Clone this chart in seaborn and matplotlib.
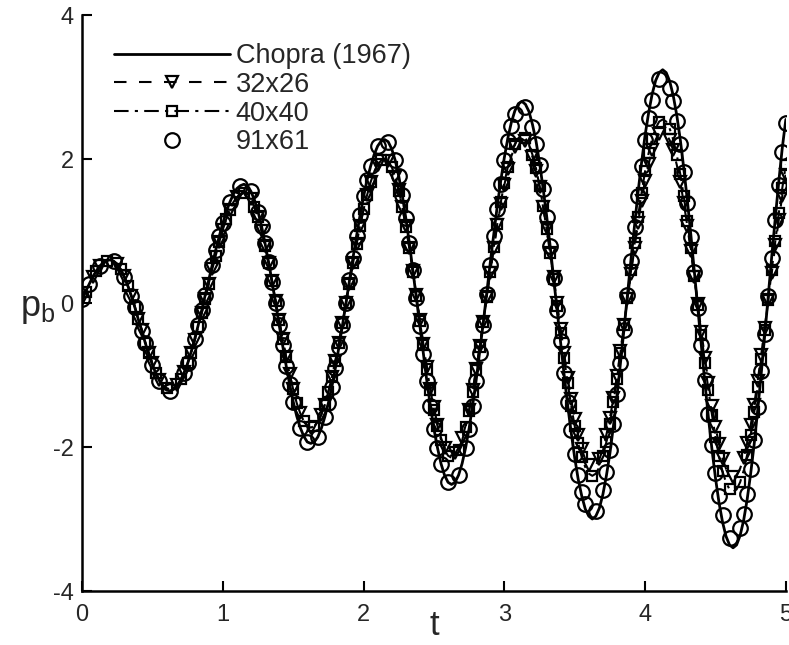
import matplotlib
matplotlib.use("Agg")
import matplotlib.pyplot as plt
import numpy as np
import pandas as pd
import seaborn as sns

# time axis, read every 0.025 s
t = np.linspace(0.0, 5.0, 201)

chopra_1967 = [
    0.05, 0.16, 0.26, 0.36, 0.44, 0.51, 0.56, 0.59, 0.60,
    0.58, 0.54, 0.46, 0.36, 0.24, 0.10, -0.06, -0.23, -0.39, -0.56, -0.72, -0.86, -0.98, -1.08, -1.16, -1.21, -1.22,
    -1.20, -1.16, -1.08, -0.97, -0.84, -0.68, -0.50, -0.31, -0.10, 0.11, 0.32, 0.53, 0.74, 0.93, 1.11, 1.27, 1.40, 1.51, 1.59, 1.63, 1.65,
    1.63, 1.55, 1.43, 1.27, 1.07, 0.83, 0.57, 0.29, 0.00, -0.30, -0.59, -0.87, -1.13, -1.37, -1.57, -1.73, -1.85, -1.93, -1.95,
    -1.93, -1.86, -1.74, -1.58, -1.39, -1.16, -0.90, -0.61, -0.31, 0.00, 0.32, 0.63, 0.93, 1.22, 1.48, 1.71, 1.90, 2.06, 2.18, 2.25, 2.27,
    2.24, 2.14, 1.98, 1.76, 1.50, 1.18, 0.84, 0.46, 0.07, -0.32, -0.71, -1.09, -1.43, -1.75, -2.01, -2.23, -2.39, -2.49, -2.52,
    -2.49, -2.39, -2.23, -2.01, -1.74, -1.42, -1.07, -0.68, -0.28, 0.14, 0.56, 0.96, 1.35, 1.70, 2.02, 2.29, 2.51, 2.67, 2.77, 2.80,
    2.76, 2.66, 2.48, 2.25, 1.95, 1.60, 1.22, 0.80, 0.35, -0.10, -0.55, -1.00, -1.42, -1.80, -2.15, -2.45, -2.68, -2.86, -2.96, -3.00,
    -2.96, -2.85, -2.66, -2.40, -2.09, -1.71, -1.30, -0.84, -0.37, 0.12, 0.61, 1.08, 1.54, 1.95, 2.33, 2.64, 2.90, 3.09, 3.20, 3.24,
    3.20, 3.08, 2.88, 2.61, 2.27, 1.87, 1.43, 0.95, 0.44, -0.08, -0.60, -1.11, -1.59, -2.03, -2.43, -2.77, -3.04, -3.24, -3.36, -3.40,
    -3.36, -3.23, -3.02, -2.73, -2.37, -1.96, -1.49, -0.98, -0.45, 0.10, 0.65, 1.18, 1.69, 2.16, 2.55,
]

grid_32x26 = [
    0.05, 0.16, 0.26, 0.36, 0.44, 0.51, 0.56, 0.59, 0.60,
    0.58, 0.54, 0.47, 0.37, 0.24, 0.10, -0.05, -0.22, -0.38, -0.55, -0.70, -0.84, -0.97, -1.07, -1.14, -1.18, -1.20,
    -1.18, -1.14, -1.06, -0.96, -0.84, -0.69, -0.52, -0.33, -0.14, 0.06, 0.27, 0.47, 0.66, 0.85, 1.02, 1.17, 1.29, 1.40, 1.47, 1.51, 1.53,
    1.51, 1.44, 1.33, 1.19, 1.00, 0.79, 0.55, 0.30, 0.03, -0.23, -0.50, -0.75, -0.99, -1.20, -1.39, -1.53, -1.64, -1.71, -1.73,
    -1.71, -1.65, -1.55, -1.41, -1.23, -1.03, -0.80, -0.55, -0.28, 0.00, 0.27, 0.55, 0.82, 1.07, 1.30, 1.50, 1.68, 1.82, 1.92, 1.98, 2.00,
    1.97, 1.89, 1.75, 1.57, 1.34, 1.07, 0.77, 0.45, 0.11, -0.23, -0.57, -0.89, -1.19, -1.45, -1.69, -1.87, -2.01, -2.09, -2.12,
    -2.09, -2.01, -1.88, -1.70, -1.48, -1.21, -0.92, -0.60, -0.26, 0.08, 0.42, 0.76, 1.08, 1.37, 1.64, 1.86, 2.04, 2.17, 2.25, 2.28,
    2.25, 2.17, 2.03, 1.84, 1.61, 1.34, 1.04, 0.70, 0.36, 0.00, -0.36, -0.70, -1.04, -1.34, -1.61, -1.84, -2.03, -2.17, -2.25, -2.28,
    -2.25, -2.17, -2.03, -1.83, -1.60, -1.32, -1.01, -0.67, -0.31, 0.05, 0.41, 0.77, 1.11, 1.42, 1.70, 1.93, 2.13, 2.27, 2.35, 2.38,
    2.35, 2.26, 2.12, 1.92, 1.68, 1.39, 1.07, 0.72, 0.36, -0.02, -0.40, -0.76, -1.11, -1.43, -1.72, -1.96, -2.16, -2.30, -2.39, -2.42,
    -2.39, -2.30, -2.15, -1.95, -1.70, -1.41, -1.08, -0.72, -0.34, 0.04, 0.42, 0.80, 1.16, 1.49, 1.78,
]

grid_40x40 = [
    0.05, 0.16, 0.26, 0.36, 0.44, 0.51, 0.56, 0.59, 0.60,
    0.58, 0.54, 0.47, 0.37, 0.24, 0.10, -0.05, -0.22, -0.38, -0.55, -0.70, -0.84, -0.97, -1.07, -1.14, -1.18, -1.20,
    -1.18, -1.14, -1.06, -0.96, -0.84, -0.69, -0.52, -0.33, -0.14, 0.06, 0.27, 0.47, 0.66, 0.85, 1.02, 1.17, 1.29, 1.40, 1.47, 1.51, 1.53,
    1.51, 1.44, 1.33, 1.19, 1.00, 0.79, 0.55, 0.30, 0.03, -0.23, -0.50, -0.75, -0.99, -1.20, -1.39, -1.53, -1.64, -1.71, -1.73,
    -1.71, -1.65, -1.55, -1.41, -1.23, -1.03, -0.80, -0.55, -0.28, 0.00, 0.27, 0.55, 0.82, 1.07, 1.30, 1.50, 1.68, 1.82, 1.92, 1.98, 2.00,
    1.97, 1.89, 1.75, 1.56, 1.33, 1.06, 0.76, 0.43, 0.10, -0.25, -0.58, -0.91, -1.21, -1.48, -1.71, -1.90, -2.04, -2.12, -2.15,
    -2.12, -2.04, -1.91, -1.72, -1.50, -1.23, -0.93, -0.61, -0.26, 0.08, 0.43, 0.78, 1.10, 1.40, 1.67, 1.89, 2.08, 2.21, 2.29, 2.32,
    2.29, 2.20, 2.06, 1.87, 1.63, 1.35, 1.03, 0.69, 0.33, -0.04, -0.41, -0.77, -1.11, -1.43, -1.71, -1.95, -2.14, -2.28, -2.37, -2.40,
    -2.37, -2.28, -2.13, -1.93, -1.68, -1.38, -1.05, -0.69, -0.31, 0.07, 0.46, 0.84, 1.20, 1.53, 1.83, 2.08, 2.28, 2.43, 2.52, 2.55,
    2.52, 2.42, 2.27, 2.06, 1.79, 1.48, 1.14, 0.76, 0.37, -0.03, -0.44, -0.83, -1.21, -1.55, -1.86, -2.13, -2.34, -2.49, -2.59, -2.62,
    -2.59, -2.49, -2.33, -2.11, -1.84, -1.52, -1.17, -0.78, -0.38, 0.04, 0.46, 0.86, 1.25, 1.60, 1.92,
]

grid_91x61 = [
    0.05, 0.16, 0.26, 0.36, 0.44, 0.51, 0.56, 0.59, 0.60,
    0.58, 0.54, 0.46, 0.36, 0.24, 0.10, -0.06, -0.23, -0.39, -0.56, -0.72, -0.86, -0.98, -1.08, -1.16, -1.21, -1.22,
    -1.20, -1.16, -1.08, -0.97, -0.84, -0.68, -0.50, -0.31, -0.10, 0.11, 0.32, 0.53, 0.74, 0.93, 1.11, 1.27, 1.40, 1.51, 1.59, 1.63, 1.65,
    1.63, 1.55, 1.43, 1.27, 1.07, 0.83, 0.57, 0.29, 0.00, -0.30, -0.59, -0.87, -1.13, -1.37, -1.57, -1.73, -1.85, -1.93, -1.95,
    -1.93, -1.86, -1.74, -1.58, -1.39, -1.16, -0.90, -0.61, -0.31, 0.00, 0.32, 0.63, 0.93, 1.22, 1.48, 1.71, 1.90, 2.06, 2.18, 2.25, 2.27,
    2.24, 2.14, 1.98, 1.76, 1.50, 1.18, 0.84, 0.46, 0.07, -0.32, -0.71, -1.09, -1.43, -1.75, -2.01, -2.23, -2.39, -2.49, -2.52,
    -2.49, -2.39, -2.23, -2.02, -1.75, -1.43, -1.08, -0.70, -0.30, 0.12, 0.53, 0.93, 1.31, 1.66, 1.98, 2.25, 2.46, 2.62, 2.72, 2.75,
    2.72, 2.61, 2.44, 2.21, 1.92, 1.58, 1.20, 0.79, 0.35, -0.09, -0.53, -0.97, -1.38, -1.76, -2.10, -2.39, -2.62, -2.79, -2.90, -2.93,
    -2.89, -2.78, -2.60, -2.35, -2.04, -1.68, -1.27, -0.83, -0.37, 0.11, 0.59, 1.05, 1.49, 1.90, 2.26, 2.57, 2.82, 3.00, 3.11, 3.15,
    3.11, 2.99, 2.80, 2.53, 2.21, 1.82, 1.39, 0.92, 0.43, -0.07, -0.58, -1.07, -1.54, -1.97, -2.36, -2.68, -2.95, -3.14, -3.26, -3.30,
    -3.26, -3.13, -2.93, -2.65, -2.30, -1.90, -1.44, -0.95, -0.43, 0.10, 0.63, 1.15, 1.64, 2.10, 2.50,
]

x_ticks = [0, 1, 2, 3, 4, 5]
y_ticks = [-4, -2, 0, 2, 4]

df = pd.DataFrame({
    "t": t,
    "chopra": chopra_1967,
    "g32": grid_32x26,
    "g40": grid_40x40,
    "g91": grid_91x61,
})

sns.set_style("ticks")
plt.rcParams["font.family"] = ["Liberation Sans", "DejaVu Sans"]
plt.rcParams["mathtext.default"] = "regular"
plt.rcParams["axes.unicode_minus"] = False

fig = plt.figure(figsize=(7.89, 6.45), dpi=100)
ax = fig.add_axes([0.104, 0.0837, 0.892, 0.893])

sns.lineplot(data=df, x="t", y="chopra", color="black", lw=2.0,
             label="Chopra (1967)", zorder=5, ax=ax)
sns.lineplot(data=df, x="t", y="g32", color="black", lw=1.5, linestyle=(0, (6, 6)),
             marker="v", markevery=(0.004, 0.02), ms=8, mfc="none", mec="black", mew=1.6,
             label="32x26", zorder=3, ax=ax)
sns.lineplot(data=df, x="t", y="g40", color="black", lw=1.5, linestyle=(0, (7, 3, 1.5, 3)),
             marker="s", markevery=(0.011, 0.02), ms=7, mfc="none", mec="black", mew=1.6,
             label="40x40", zorder=3, ax=ax)
sns.lineplot(data=df, x="t", y="g91", color="black", linestyle="none",
             marker="o", markevery=(0.0, 0.02), ms=10.5, mfc="none", mec="black", mew=1.6,
             label="91x61", zorder=4, ax=ax)

ax.set_xlim(0, 5)
ax.set_ylim(-4, 4)
ax.set_xticks(x_ticks)
ax.set_yticks(y_ticks)
ax.tick_params(direction="in", length=7, width=1.5, labelsize=17, color="black")
ax.tick_params(axis="x", pad=9)
ax.tick_params(axis="y", pad=6)
sns.despine(ax=ax)
for side in ["left", "bottom"]:
    ax.spines[side].set_linewidth(1.8)
    ax.spines[side].set_color("black")

ax.set_xlabel("t", fontsize=25, labelpad=-12)
ax.set_ylabel("p$_{b}$", fontsize=26, rotation=0, va="center", ha="center")
ax.yaxis.set_label_coords(-0.063, 0.49)

ax.legend(loc="upper left", bbox_to_anchor=(0.045, 0.951), frameon=False, fontsize=19.5,
          handlelength=4.3, handletextpad=0.2, labelspacing=0.1, borderpad=0,
          borderaxespad=0, numpoints=1)

fig.savefig("out.png", dpi=100)
plt.close(fig)
